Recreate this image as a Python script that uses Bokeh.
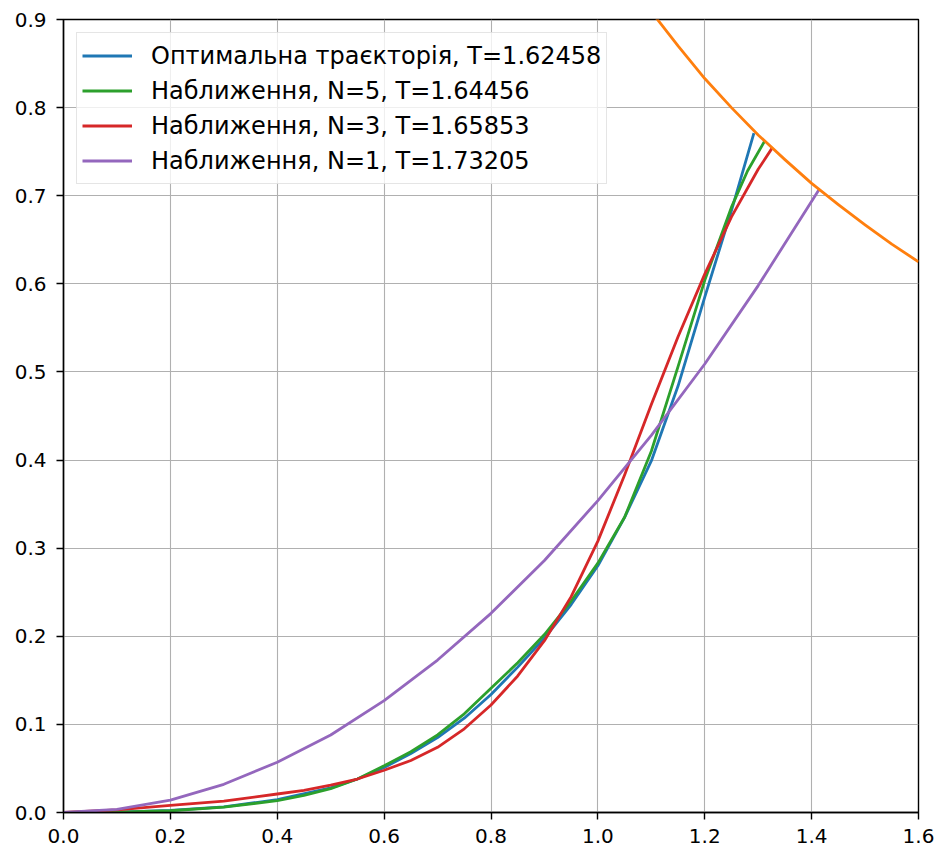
from bokeh.plotting import figure
from bokeh.models import Range1d, FixedTicker, PrintfTickFormatter
from bokeh.embed import file_html
from bokeh.resources import INLINE

# ---- data ----
opt_x = [0.0, 0.1, 0.2, 0.3, 0.4, 0.5, 0.55, 0.6, 0.65, 0.7, 0.75, 0.8, 0.85, 0.9, 0.95, 1.0, 1.05, 1.1, 1.15, 1.2, 1.25, 1.292]
opt_y = [0.0, 0.0005, 0.0025, 0.0065, 0.0145, 0.028, 0.038, 0.051, 0.067, 0.085, 0.107, 0.134, 0.165, 0.198, 0.236, 0.28, 0.335, 0.399, 0.484, 0.585, 0.683, 0.771]

n5_x = [0.0, 0.1, 0.2, 0.3, 0.4, 0.45, 0.5, 0.55, 0.6, 0.65, 0.7, 0.75, 0.8, 0.85, 0.9, 0.95, 1.0, 1.05, 1.1, 1.15, 1.2, 1.25, 1.28, 1.312]
n5_y = [0.0, 0.0005, 0.002, 0.006, 0.0135, 0.0195, 0.027, 0.038, 0.053, 0.069, 0.088, 0.112, 0.141, 0.17, 0.202, 0.24, 0.283, 0.335, 0.41, 0.506, 0.604, 0.687, 0.728, 0.762]

n3_x = [0.0, 0.1, 0.2, 0.3, 0.4, 0.45, 0.5, 0.55, 0.6, 0.65, 0.7, 0.75, 0.8, 0.85, 0.9, 0.95, 1.0, 1.05, 1.1, 1.15, 1.2, 1.25, 1.3, 1.326]
n3_y = [0.0, 0.003, 0.008, 0.013, 0.021, 0.025, 0.031, 0.038, 0.048, 0.059, 0.074, 0.095, 0.122, 0.155, 0.195, 0.245, 0.308, 0.383, 0.463, 0.54, 0.611, 0.676, 0.73, 0.754]

n1_x = [0.0, 0.1, 0.2, 0.3, 0.4, 0.5, 0.6, 0.7, 0.8, 0.9, 1.0, 1.1, 1.2, 1.3, 1.414]
n1_y = [0.0, 0.0035, 0.014, 0.032, 0.057, 0.088, 0.127, 0.173, 0.226, 0.286, 0.354, 0.428, 0.509, 0.598, 0.707]

bound_x = [1.08, 1.1, 1.15, 1.2, 1.25, 1.3, 1.35, 1.4, 1.45, 1.5, 1.55, 1.6]
bound_y = [0.926, 0.909, 0.870, 0.833, 0.800, 0.769, 0.741, 0.714, 0.690, 0.667, 0.645, 0.625]

labels = [
    "Оптимальна траєкторія, T=1.62458",
    "Наближення, N=5, T=1.64456",
    "Наближення, N=3, T=1.65853",
    "Наближення, N=1, T=1.73205",
]
x_ticks = [0.0, 0.2, 0.4, 0.6, 0.8, 1.0, 1.2, 1.4, 1.6]
y_ticks = [0.0, 0.1, 0.2, 0.3, 0.4, 0.5, 0.6, 0.7, 0.8, 0.9]

FONT = "DejaVu Sans"

p = figure(width=936, height=852, x_range=Range1d(0, 1.6), y_range=Range1d(0, 0.9),
           output_backend="svg", toolbar_location=None,
           min_border_left=63, min_border_right=18, min_border_top=19, min_border_bottom=40)

p.outline_line_color = "black"
p.outline_line_width = 1.4
p.outline_line_alpha = 1.0
p.background_fill_color = "white"
p.border_fill_color = "white"

for ax, ticks, standoff in ((p.xaxis[0], x_ticks, 9), (p.yaxis[0], y_ticks, 10)):
    ax.ticker = FixedTicker(ticks=ticks)
    ax.formatter = PrintfTickFormatter(format="%.1f")
    ax.major_label_text_font = FONT
    ax.major_label_text_font_size = "20px"
    ax.major_label_text_color = "black"
    ax.axis_line_color = "black"
    ax.axis_line_width = 1.4
    ax.major_tick_line_color = "black"
    ax.major_tick_line_width = 1.4
    ax.major_tick_out = 7
    ax.major_tick_in = 0
    ax.minor_tick_line_color = None
    ax.major_label_standoff = standoff

p.xgrid.ticker = FixedTicker(ticks=x_ticks)
p.ygrid.ticker = FixedTicker(ticks=y_ticks)
p.grid.grid_line_color = "#b0b0b0"
p.grid.grid_line_width = 1.1

LW = 2.8
p.line(opt_x, opt_y, color="#1f77b4", line_width=LW, line_join="round", legend_label=labels[0])
p.line(n5_x, n5_y, color="#2ca02c", line_width=LW, line_join="round", legend_label=labels[1])
p.line(n3_x, n3_y, color="#d62728", line_width=LW, line_join="round", legend_label=labels[2])
p.line(n1_x, n1_y, color="#9467bd", line_width=LW, line_join="round", legend_label=labels[3])
p.line(bound_x, bound_y, color="#ff7f0e", line_width=LW, line_join="round")

lg = p.legend[0]
lg.location = "top_left"
lg.margin = 13
lg.padding = 5
lg.spacing = 0
lg.label_standoff = 19
lg.glyph_width = 50
lg.glyph_height = 35
lg.label_height = 35
lg.label_text_font = FONT
lg.label_text_font_size = "24px"
lg.label_text_color = "black"
lg.border_line_color = "#cccccc"
lg.border_line_width = 1.2
lg.background_fill_color = "white"
lg.background_fill_alpha = 0.8

open("out.html", "w").write(file_html(p, INLINE))
